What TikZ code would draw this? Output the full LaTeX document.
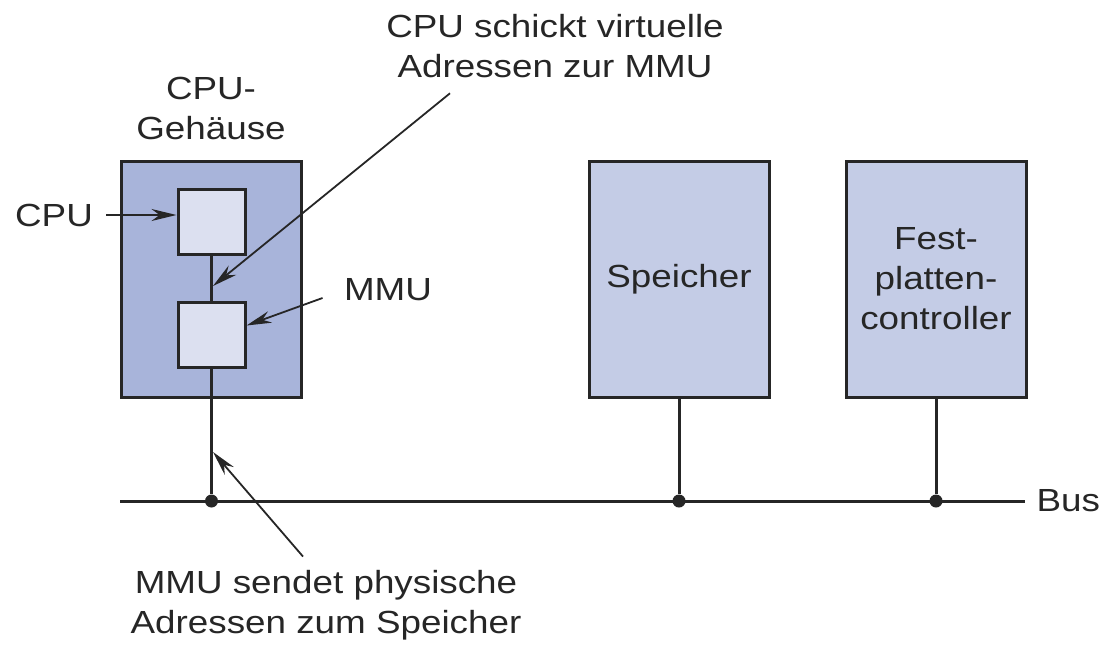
\documentclass[tikz,border=0pt]{standalone}
\usepackage{fontspec}
\setmainfont{Liberation Sans}[FakeStretch=1.15]
\usetikzlibrary{arrows.meta,positioning}
\definecolor{pkgfill}{RGB}{168,180,218}
\definecolor{chipfill}{RGB}{220,224,240}
\definecolor{unitfill}{RGB}{196,204,230}
\begin{document}
\begin{tikzpicture}[x=1pt,y=-1pt,node distance=45pt and 74pt,
  txt/.style={font=\fontsize{32}{40}\selectfont,align=center,text=black!85},
  unit/.style={draw=black!85,line width=3pt,fill=unitfill,minimum width=180pt,minimum height=236pt,txt},
  chip/.style={draw=black!85,line width=3pt,fill=chipfill,minimum width=67pt,minimum height=65pt},
  wire/.style={draw=black!85,line width=3pt},
  ptr/.style={-{Stealth[length=25pt,width=12pt]},line width=1.8pt,draw=black!85},
  dot/.style={circle,fill=black!85,inner sep=0pt,minimum size=13pt}]
\useasboundingbox (0,0) rectangle (1105,645);
\node[unit,fill=pkgfill] (pkg) at (211,279) {};
\node[chip] (cpu) at (211.5,221.5) {};
\node[chip,below=of cpu] (mmu) {};
\node[unit,right=285pt of pkg] (mem) {Speicher};
\node[unit,right=of mem] (disk) {Fest-\\platten-\\controller};
\node[txt] (pkglab) at (211,108) {CPU-\\Gehäuse};
\node[txt] (virt) at (555,46) {CPU schickt virtuelle\\Adressen zur MMU};
\node[txt] (phys) at (326,605) {MMU sendet physische\\Adressen zum Speicher};
\node[txt] (cpulab) at (54,215) {CPU};
\node[txt] (mmulab) at (388,290) {MMU};
% bus
\coordinate (busw) at (120,501);
\node[txt,anchor=west] (bus) at (1033,501) {Bus};
\node[dot] (j1) at (mmu.center |- busw) {};
\node[dot] (j2) at (mem.center |- busw) {};
\node[dot] (j3) at (disk.center |- busw) {};
\draw[wire] (busw) -- ([xshift=-8pt]bus.west);
\draw[wire] (cpu) -- (mmu);
\draw[wire] (mmu) -- (j1);
\draw[wire] (mem) -- (j2);
\draw[wire] (disk) -- (j3);
% pointers
\coordinate (vtip) at (213,286);
\coordinate (ptip) at (213,452);
\draw[ptr] ([xshift=10pt]cpulab.east) -- (cpulab.east -| cpu.west);
\draw[ptr] ([xshift=-18pt,yshift=-8pt]mmulab.west) -- ([yshift=9pt]mmu.east);
\draw[ptr] ([xshift=-105pt,yshift=-12pt]virt.south) -- (vtip);
\draw[ptr] ([xshift=-23pt,yshift=10pt]phys.north) -- (ptip);
\end{tikzpicture}
\end{document}
